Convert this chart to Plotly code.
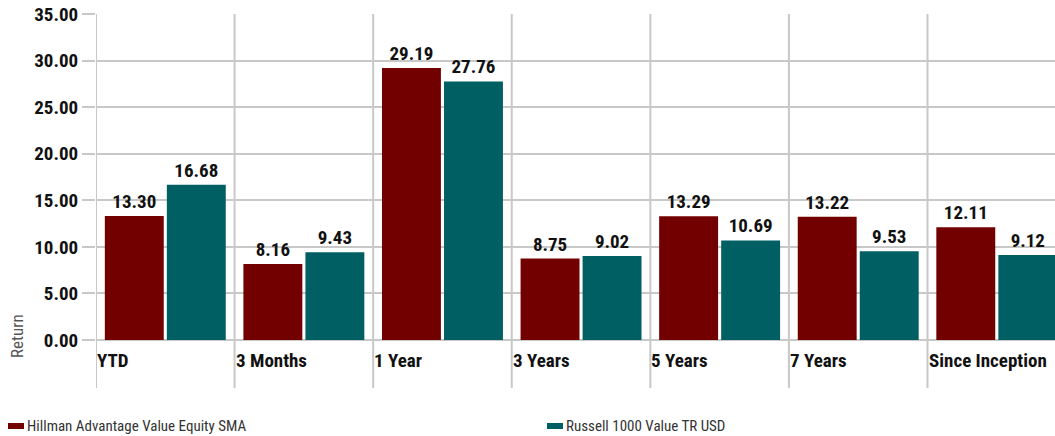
import plotly.graph_objects as go

categories = ["YTD", "3 Months", "1 Year", "3 Years", "5 Years", "7 Years", "Since Inception"]
fund_name = "Hillman Advantage Value Equity SMA"
bench_name = "Russell 1000 Value TR USD"
fund_values = [13.30, 8.16, 29.19, 8.75, 13.29, 13.22, 12.11]
bench_values = [16.68, 9.43, 27.76, 9.02, 10.69, 9.53, 9.12]
y_ticks = [0, 5, 10, 15, 20, 25, 30, 35]

RED = "#730000"
TEAL = "#005f62"
GRID = "#c8c8c8"
FONT = "Roboto Condensed, DejaVu Sans Condensed, sans-serif"

# pixel geometry of the plot area (used to convert to paper fractions)
L, T, B, W, H = 96, 14, 340, 1055, 436
PW, PH = W - L, B - T

def px_x(px):
    return (px - L) / PW

def px_y(py):
    return (B - py) / PH

xs = list(range(len(categories)))

fig = go.Figure()
for name, vals, col in [(fund_name, fund_values, RED), (bench_name, bench_values, TEAL)]:
    fig.add_trace(go.Bar(
        x=xs, y=vals, name=name, marker_color=col,
        marker_line_width=0,
        texttemplate="<b>%{y:.2f}</b>", textposition="outside",
        textfont=dict(family=FONT, size=19, color="#111"),
        cliponaxis=False, showlegend=False,
    ))

shapes = []
annotations = []
for i, c in enumerate(categories):
    shapes.append(dict(type="line", xref="x", yref="paper", x0=i - 0.5, x1=i - 0.5,
                       y0=px_y(388), y1=1, line=dict(color=GRID, width=2), layer="below"))
    annotations.append(dict(x=i - 0.5, xref="x", y=px_y(360), yref="paper", text="<b>%s</b>" % c,
                            showarrow=False, xanchor="left", yanchor="middle", xshift=-1,
                            font=dict(family=FONT, size=19, color="#111")))

# y axis title
annotations.append(dict(x=px_x(17), xref="paper", y=px_y(336), yref="paper",
                        text="Return", showarrow=False, textangle=-90,
                        xanchor="center", yanchor="middle",
                        font=dict(family=FONT, size=17, color="#555")))

# legend
legend_items = [(fund_name, RED, 8), (bench_name, TEAL, 547)]
for name, col, px in legend_items:
    shapes.append(dict(type="rect", xref="paper", yref="paper",
                       x0=px_x(px), x1=px_x(px + 16),
                       y0=px_y(429), y1=px_y(423),
                       fillcolor=col, line=dict(width=0)))
    annotations.append(dict(x=px_x(px + 17), xref="paper", y=px_y(426), yref="paper",
                            text=name, showarrow=False, xanchor="left", yanchor="middle",
                            font=dict(family=FONT, size=15, color="#333")))

fig.update_layout(
    width=W, height=H,
    margin=dict(l=L, r=0, t=T, b=H - B),
    paper_bgcolor="white", plot_bgcolor="white",
    barmode="group", bargap=0.105, bargroupgap=0.05,
    shapes=shapes, annotations=annotations,
    showlegend=False,
    xaxis=dict(range=[-0.5, 6.42], showticklabels=False, showgrid=False, zeroline=False,
               fixedrange=True),
    yaxis=dict(range=[0, 35], tickvals=y_ticks, ticktext=["<b>%.2f</b>" % v for v in y_ticks],
               tickfont=dict(family=FONT, size=19, color="#111"),
               showgrid=True, gridcolor=GRID, gridwidth=2,
               ticks="outside", ticklen=13, tickcolor=GRID, tickwidth=2,
               zeroline=True, zerolinecolor=GRID, zerolinewidth=2, showline=False),
)

fig.write_html("out.html", post_script="document.body.style.margin='0'",
               config={"displayModeBar": False})
